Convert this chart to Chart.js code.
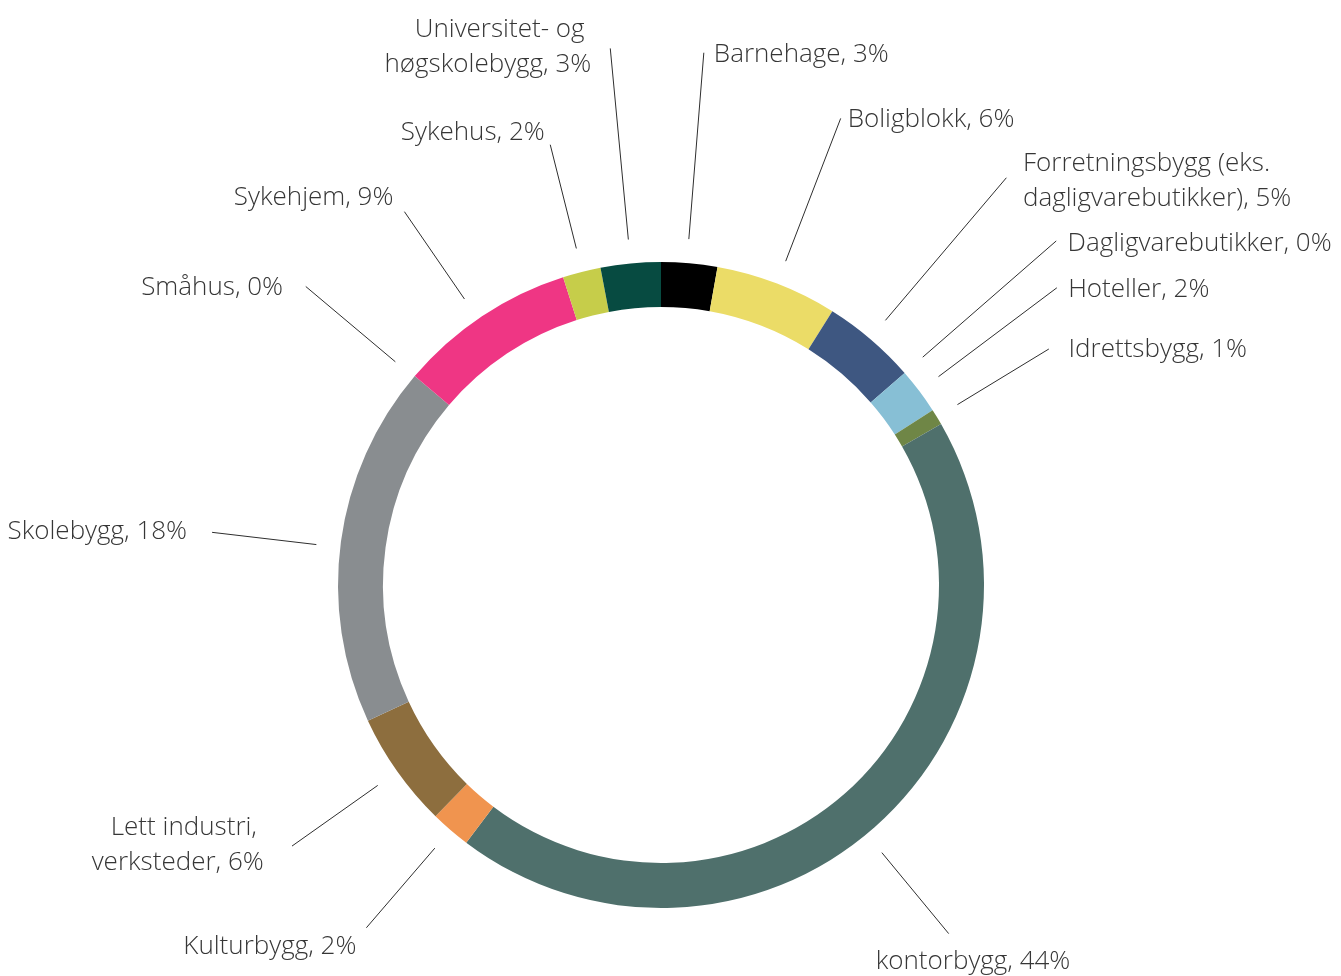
<!DOCTYPE html>
<html lang="no">
<head>
<meta charset="utf-8">
<title>Fordeling etter byggtype</title>
<script src="https://cdn.jsdelivr.net/npm/chart.js@4.4.1/dist/chart.umd.min.js"></script>
<style>
  html, body { margin: 0; padding: 0; background: #fff; }
  #wrap { width: 1341px; height: 976px; }
</style>
</head>
<body>
<div id="wrap"><canvas id="chart" width="1341" height="976"></canvas></div>
<script>
// Categories in clockwise order from 12 o'clock
const categories = [
    'Barnehage', 'Boligblokk', 'Forretningsbygg (eks. dagligvarebutikker)',
    'Dagligvarebutikker', 'Hoteller', 'Idrettsbygg', 'kontorbygg', 'Kulturbygg',
    'Lett industri, verksteder', 'Skolebygg', 'Småhus', 'Sykehjem', 'Sykehus',
    'Universitet- og høgskolebygg'
];
// share in percent, read from the ring
const shares = [2.8, 6.1, 4.7, 0, 2.3, 0.8, 43.6, 2.0, 5.8, 18.1, 0, 8.9, 1.9, 3.0];
// label text as printed (line breaks as in the original)
const labelLines = [
    ['Barnehage, 3%'],
    ['Boligblokk, 6%'],
    ['Forretningsbygg (eks.', 'dagligvarebutikker), 5%'],
    ['Dagligvarebutikker, 0%'],
    ['Hoteller, 2%'],
    ['Idrettsbygg, 1%'],
    ['kontorbygg, 44%'],
    ['Kulturbygg, 2%'],
    ['Lett industri, ', 'verksteder, 6%'],
    ['Skolebygg, 18%'],
    ['Småhus, 0%'],
    ['Sykehjem, 9%'],
    ['Sykehus, 2%'],
    ['Universitet- og ', 'høgskolebygg, 3%']
];
const colors = [
    '#000000', '#ebdc67', '#3e5781', '#2a7f9e', '#87bfd5', '#6f8646', '#4f706c',
    '#f0944f', '#8d6e3e', '#898d90', '#cccccc', '#ef3684', '#c6cd4a', '#074b41'
];

// callout layout: leader end radius, small angle nudge (deg), text offset from leader end
const callouts = [
    { len: 534, turn: -0.44, dx: 10, dy: 9, align: 'left' },
    { len: 500, turn: 0, dx: 7, dy: 8.4, align: 'left' },
    { len: 534, turn: -0.2, dx: 16.6, dy: -6.6, align: 'left' },
    { len: 524, turn: 0, dx: 11.3, dy: 10, align: 'left' },
    { len: 495, turn: 0, dx: 11.3, dy: 9.3, align: 'left' },
    { len: 454, turn: 0, dx: 19.7, dy: 8.4, align: 'left' },
    { len: 452, turn: 1.87, dx: -73, dy: 35.3, align: 'left' },
    { len: 452, turn: 0, dx: -10, dy: 26.7, align: 'right' },
    { len: 452, turn: 0, dx: -28.3, dy: -10.6, align: 'right' },
    { len: 452, turn: -1.05, dx: -25, dy: 7, align: 'right' },
    { len: 464, turn: -0.28, dx: -22.7, dy: 8.3, align: 'right' },
    { len: 453, turn: -0.84, dx: -11, dy: -6.7, align: 'right' },
    { len: 454, turn: 0.1, dx: -5.5, dy: -5, align: 'right' },
    { len: 539, turn: 0, dx: -19, dy: -11.6, align: 'right' }
];
const LINE_HEIGHT = 35;

const calloutPlugin = {
    id: 'callouts',
    afterDatasetsDraw(chart) {
        const ctx = chart.ctx;
        const arcs = chart.getDatasetMeta(0).data;
        ctx.save();
        ctx.strokeStyle = '#2e2e2e';
        ctx.lineWidth = 1;
        ctx.fillStyle = '#363636';
        ctx.font = '300 26px "Open Sans"';
        ctx.textBaseline = 'alphabetic';
        arcs.forEach((arc, i) => {
            const p = arc.getProps(['x', 'y', 'startAngle', 'endAngle', 'outerRadius'], true);
            const c = callouts[i];
            const a = (p.startAngle + p.endAngle) / 2 + c.turn * Math.PI / 180;
            const r0 = p.outerRadius + 24;
            const x0 = p.x + Math.cos(a) * r0;
            const y0 = p.y + Math.sin(a) * r0;
            const x1 = p.x + Math.cos(a) * c.len;
            const y1 = p.y + Math.sin(a) * c.len;
            ctx.beginPath();
            ctx.moveTo(x0, y0);
            ctx.lineTo(x1, y1);
            ctx.stroke();
            ctx.textAlign = c.align;
            labelLines[i].forEach((line, k) => {
                ctx.fillText(line, x1 + c.dx, y1 + c.dy + k * LINE_HEIGHT);
            });
        });
        ctx.restore();
    }
};

const ctx = document.getElementById('chart').getContext('2d');
new Chart(ctx, {
    type: 'doughnut',
    data: {
        labels: categories,
        datasets: [{
            data: shares,
            backgroundColor: colors,
            borderWidth: 0
        }]
    },
    options: {
        responsive: false,
        animation: false,
        radius: 323,
        cutout: 278,
        layout: {
            padding: { left: 338, right: 357, top: 262, bottom: 68 }
        },
        plugins: {
            legend: { display: false },
            tooltip: { enabled: false }
        }
    },
    plugins: [calloutPlugin]
});
</script>
</body>
</html>
